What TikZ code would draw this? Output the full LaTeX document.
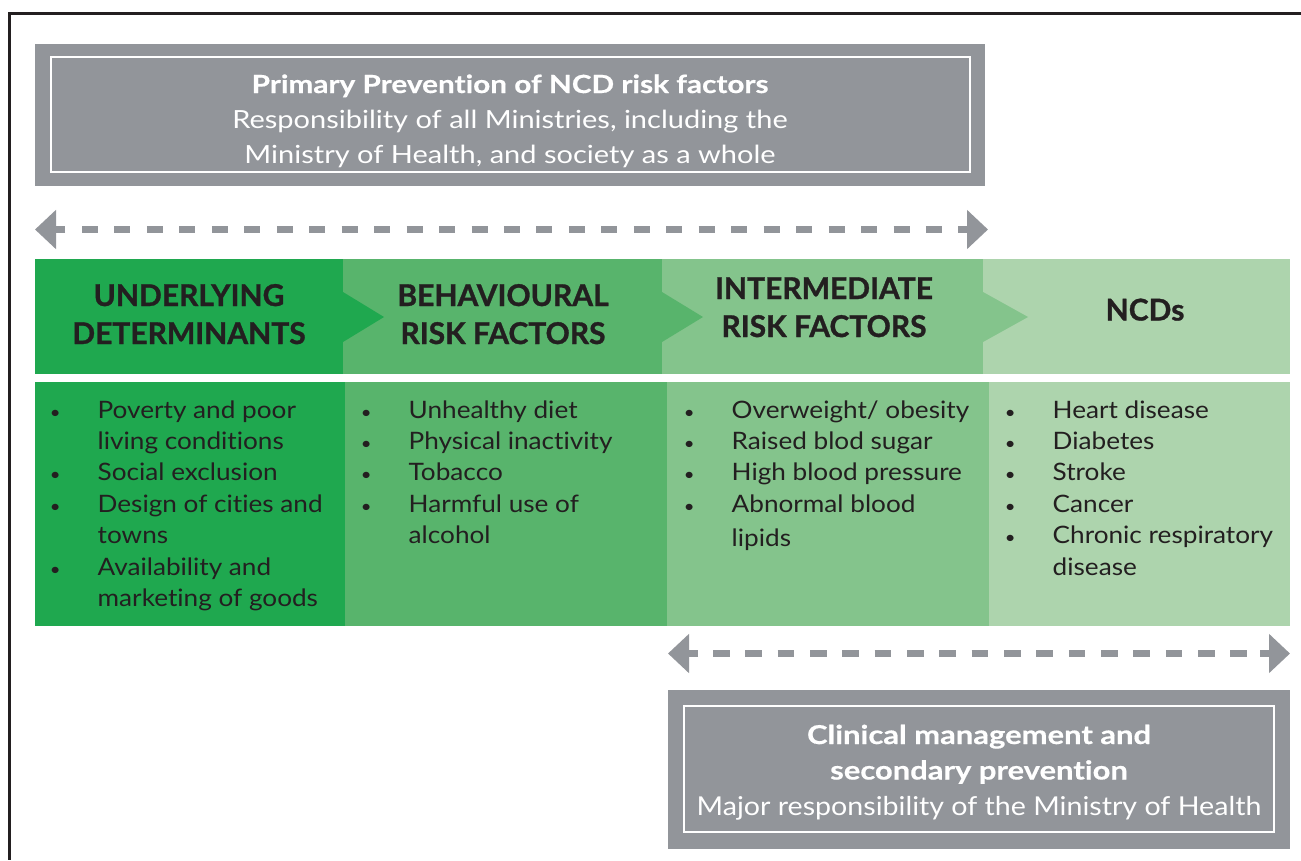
\documentclass[tikz,border=0pt]{standalone}
\usepackage{fontspec}
\setmainfont{Lato}[Ligatures=NoCommon]
\newfontfamily\hdrfam{Lato}[Ligatures=NoCommon, BoldFeatures={FakeBold=1}]
\newfontfamily\bodyfam{Lato}[Ligatures=NoCommon, FakeStretch=1.09]
\newfontfamily\topfam{Lato}[Ligatures=NoCommon, FakeStretch=1.16, BoldFeatures={FakeStretch=1.19, FakeBold=0.6}]
\newfontfamily\botfam{Lato}[Ligatures=NoCommon, FakeStretch=1.10, BoldFeatures={FakeStretch=1.19, FakeBold=0.6}]
\usetikzlibrary{arrows.meta}
\definecolor{ink}{RGB}{35,31,32}
\definecolor{boxgray}{RGB}{146,149,154}
\definecolor{gA}{RGB}{31,168,79}
\definecolor{gB}{RGB}{88,180,108}
\definecolor{gC}{RGB}{132,196,140}
\definecolor{gD}{RGB}{173,212,173}
\newcommand\bodyfont{\bodyfam\fontsize{24}{31.4}\selectfont}
\newcommand\hdrfont{\hdrfam\fontsize{30}{38}\selectfont\bfseries}
\newcommand\topfont{\topfam\fontsize{25}{35}\selectfont}
\newcommand\botfont{\botfam\fontsize{26}{35.5}\selectfont}
\newcommand\bulfont{\fontsize{17}{17}\selectfont}
\newcommand\mlc[1]{\begin{tabular}[t]{@{}c@{}}#1\end{tabular}}
\newcommand\blist[1]{\begin{tabular}[t]{@{}l@{}l@{}}#1\end{tabular}}
\newcommand\bi{\makebox[42.5pt][l]{\makebox[0pt]{\bulfont •}}&}
\begin{document}
\begin{tikzpicture}[x=1pt,y=-1pt,
  panel/.style={inner sep=0pt, outer sep=0pt, draw=none},
  frameline/.style={panel, draw=white, line width=2.5pt},
  hdr/.style={font=\hdrfont, text=ink, inner sep=0pt, anchor=base},
  bodytxt/.style={font=\bodyfont, text=ink, inner sep=0pt, anchor=base west},
  boxtxt/.style={text=white, inner sep=0pt, anchor=base},
  dashline/.style={boxgray, line width=7.5pt},
  headarrow/.style={boxgray, line width=7.5pt, -{Triangle[length=21pt,width=38pt]}}
]
\useasboundingbox (0,0) rectangle (1301,860);
\fill[white] (0,0) rectangle (1301,860);
% outer frame
\draw[ink, line width=3pt] (1301,13) -- (9.5,13) -- (9.5,860);

% top gray box
\node[panel, fill=boxgray, minimum width=950pt, minimum height=142pt] (prim) at (510,115) {};
\node[frameline, minimum width=919pt, minimum height=115pt] (primframe) at (510.5,114.5) {};
\node[boxtxt, font=\topfont] (primtxt) at (510,93)
  {\mlc{\textbf{Primary Prevention of NCD risk factors}\\
   Responsibility of all Ministries, including the\\
   Ministry of Health, and society as a whole}};

% top dashed double arrow
\coordinate (tl) at (35,229.5);
\coordinate (tr) at (988,229.5);
\coordinate (tld) at (82,229.5);
\coordinate (trd) at (942,229.5);
\draw[headarrow] ([xshift=30pt]tl) -- (tl);
\draw[headarrow] ([xshift=-30pt]tr) -- (tr);
\draw[dashline, dash pattern=on 16pt off 16.46pt] (tld) -- (trd);

% header row
\node[panel, fill=gA, minimum width=308pt, minimum height=115pt] (h1) at (189,316.5) {};
\node[panel, fill=gB, minimum width=319pt, minimum height=115pt] (h2) at (502.5,316.5) {};
\node[panel, fill=gC, minimum width=321pt, minimum height=115pt] (h3) at (822.5,316.5) {};
\node[panel, fill=gD, minimum width=307pt, minimum height=115pt] (h4) at (1136.5,316.5) {};
\fill[gA] (343,292) -- (384,317) -- (343,342) -- cycle;
\fill[gB] (662,292) -- (703,317) -- (662,342) -- cycle;
\fill[gC] (983,292) -- (1028,317) -- (983,342) -- cycle;
\node[hdr] (h1t) at (189,306) {\mlc{UNDERLYING\\DETERMINANTS}};
\node[hdr] (h2t) at (503,306) {\mlc{BEHAVIOURAL\\RISK FACTORS}};
\node[hdr] (h3t) at (824,299) {\mlc{INTERMEDIATE\\RISK FACTORS}};
\node[hdr] (h4t) at (1145,320.5) {NCDs};

% body row
\node[panel, fill=gA, minimum width=310pt, minimum height=244pt] (b1) at (190,504) {};
\node[panel, fill=gB, minimum width=322pt, minimum height=244pt] (b2) at (506,504) {};
\node[panel, fill=gC, minimum width=322pt, minimum height=244pt] (b3) at (828,504) {};
\node[panel, fill=gD, minimum width=301pt, minimum height=244pt] (b4) at (1139.5,504) {};

\node[bodytxt] (b1t) at (55,418) {\blist{%
  \bi Poverty and poor\\
  & living conditions\\
  \bi Social exclusion\\
  \bi Design of cities and\\
  & towns\\
  \bi Availability and\\
  & marketing of goods}};
\node[bodytxt] (b2t) at (366,418) {\blist{%
  \bi Unhealthy diet\\
  \bi Physical inactivity\\
  \bi Tobacco\\
  \bi Harmful use of\\
  & alcohol}};
\node[bodytxt] (b3t) at (689,418) {\blist{%
  \bi Overweight/ obesity\\
  \bi Raised blod sugar\\
  \bi High blood pressure\\
  \bi Abnormal blood\\[3pt]
  & lipids}};
\node[bodytxt] (b4t) at (1010,418) {\blist{%
  \bi Heart disease\\
  \bi Diabetes\\
  \bi Stroke\\
  \bi Cancer\\
  \bi Chronic respiratory\\
  & disease}};

% bottom dashed double arrow
\coordinate (bl) at (668,653.5);
\coordinate (br) at (1290,653.5);
\coordinate (bld) at (713,653.5);
\coordinate (brd) at (1247,653.5);
\draw[headarrow] ([xshift=30pt]bl) -- (bl);
\draw[headarrow] ([xshift=-30pt]br) -- (br);
\draw[dashline, dash pattern=on 16.5pt off 15.84pt] (bld) -- (brd);

% bottom gray box
\node[panel, fill=boxgray, minimum width=622pt, minimum height=159pt] (clin) at (979,769.5) {};
\node[frameline, minimum width=590pt, minimum height=126pt] (clinframe) at (979,769) {};
\node[boxtxt, font=\botfont] (clintxt) at (979,744)
  {\mlc{\textbf{Clinical management and}\\
   \textbf{secondary prevention}\\
   Major responsibility of the Ministry of Health}};
\end{tikzpicture}
\end{document}
